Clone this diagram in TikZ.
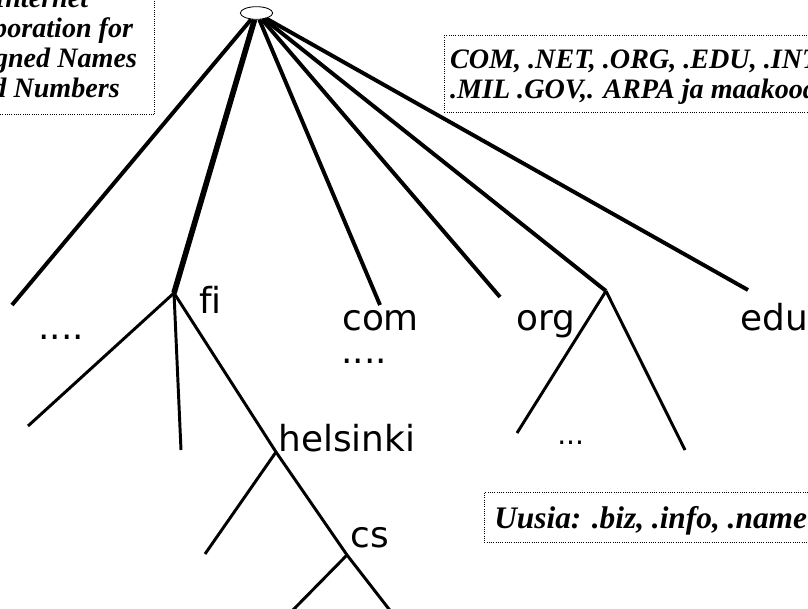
\documentclass[tikz,border=0pt]{standalone}
\usepackage{fontspec}
\setmainfont{Liberation Serif}
\newfontfamily\labelfont[Ligatures=CommonOff]{DejaVu Sans}
\usetikzlibrary{shapes.geometric}

\tikzset{
  rootnode/.style={ellipse, draw, line width=0.6pt, minimum width=23, minimum height=9, inner sep=0pt},
  topedge/.style={line width=2.8pt},
  subedge/.style={line width=2.1pt},
  domlabel/.style={font=\labelfont\fontsize{25.5}{30}\selectfont, inner sep=0pt, anchor=base west},
  notebox/.style={draw, densely dotted, line width=0.6pt, text depth=0pt, font=\bfseries\itshape\fontsize{20}{21.3}\selectfont}
}

\begin{document}
\begin{tikzpicture}[x=0.025cm, y=-0.025cm]
\clip (0,0) rectangle (808,608);

% Root of the name tree
\node[rootnode] (root) at (256.5,13) {};

% Top level domains
\coordinate (more) at (12,305);
\coordinate (fi) at (174,293);
\coordinate (com) at (380,305);
\coordinate (org) at (500,297);
\coordinate (other) at (606,291);
\coordinate (edu) at (748,290);
\foreach \t in {more,com,org,other,edu}
  \draw[topedge] (root) -- (\t);
\draw[topedge, line width=4pt] (root) -- (fi);

% Under fi
\coordinate (fileft) at (28,426);
\coordinate (fimid) at (181,450);
\coordinate (helsinki) at (276,452);
\coordinate (hkileft) at (205,554);
\coordinate (cs) at (347,555);
\coordinate (csleft) at (290,613);
\coordinate (csright) at (392,613);
\draw[subedge] (fi) -- (fileft);
\draw[subedge] (fi) -- (fimid);
\draw[subedge] (fi) -- (helsinki) -- (cs) -- (csright);
\draw[subedge] (helsinki) -- (hkileft);
\draw[subedge] (cs) -- (csleft);

% Under the other branch
\coordinate (otherleft) at (517,433);
\coordinate (otherright) at (685,450);
\draw[subedge] (other) -- (otherright);
\draw[subedge] (other) -- (otherleft);

% Names
\node[domlabel] (filabel) at (199,313) {fi};
\node[domlabel] (comlabel) at (342,330) {com};
\node[domlabel] (orglabel) at (516,330) {org};
\node[domlabel] (edulabel) at (740,330) {edu};
\node[domlabel] (hkilabel) at (278,451) {helsinki};
\node[domlabel] (cslabel) at (350,547) {cs};
\node[domlabel] (moredots) at (38,339) {....};
\node[domlabel] (comdots) at (341,363) {....};
\node[domlabel, font=\labelfont\fontsize{20}{24}\selectfont] (orgdots) at (557,444) {...};

% Notes
\node[notebox, align=center, anchor=south east, inner xsep=12.5pt, inner ysep=12pt] (icann) at (155,115)
  {Internet\\Corporation for\\Assigned Names\\and Numbers};
\node[notebox, align=left, anchor=north west, inner xsep=4pt, inner ysep=10pt] (tlds) at (444,35)
  {COM, .NET, .ORG, .EDU, .INT,\\.MIL .GOV,. ARPA ja maakoodit};
\node[notebox, anchor=north west, inner xsep=7pt, inner ysep=10pt,
  font=\bfseries\itshape\fontsize{22.3}{26}\selectfont] (uusia) at (484,492)
  {Uusia: .biz, .info, .name};
\end{tikzpicture}
\end{document}
